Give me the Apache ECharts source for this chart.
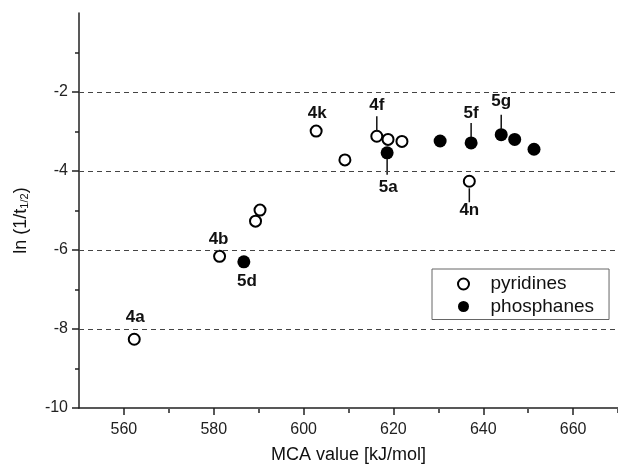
<!DOCTYPE html>
<html lang="en">
<head>
  <meta charset="UTF-8">
  <title>MCA vs ln(1/t1/2)</title>
  <script src="https://cdn.jsdelivr.net/npm/echarts@6/dist/echarts.min.js"></script>
</head>
<body style="margin:0">
<div id="chart" style="width: 618px;height: 469px"></div>
<script>
  // MCA value [kJ/mol], ln(1/t1/2), label
  var pyridines = [
    [562.3, -8.26, '4a'],
    [581.3, -6.16, '4b'],
    [589.3, -5.27, ''],
    [590.3, -4.99, ''],
    [602.8, -2.99, '4k'],
    [609.2, -3.72, ''],
    [616.3, -3.12, '4f'],
    [618.8, -3.20, ''],
    [621.9, -3.25, ''],
    [636.9, -4.26, '4n']
  ];
  var phosphanes = [
    [586.7, -6.30, '5d'],
    [618.6, -3.54, '5a'],
    [630.4, -3.24, ''],
    [637.3, -3.29, '5f'],
    [644.0, -3.08, '5g'],
    [647.0, -3.20, ''],
    [651.3, -3.45, '']
  ];
  var xLabels = [560, 580, 600, 620, 640, 660];
  var xMinor = [570, 590, 610, 630, 650, 670];
  var yLabels = [-10, -8, -6, -4, -2];
  var gridValues = [-2, -4, -6, -8];

  // label offsets in px from the marker centre; lead = leader line [from, to] in px (y)
  var labelPos = {
    '4a': {dx: 1, dy: -22},
    '4b': {dx: -1, dy: -17},
    '5d': {dx: 3, dy: 19},
    '4k': {dx: 1, dy: -18},
    '4f': {dx: 0, dy: -31, lead: [-5, -20]},
    '5f': {dx: 0, dy: -30, lead: [-6, -20]},
    '5g': {dx: 0, dy: -33, lead: [-5, -20]},
    '5a': {dx: 1, dy: 34, lead: [6, 22]},
    '4n': {dx: 0, dy: 29, lead: [7, 21]}
  };

  var annot = pyridines.concat(phosphanes).filter(function (d) { return d[2]; });

  var chart = echarts.init(document.getElementById('chart'));
  var font = '"Liberation Sans", Arial, sans-serif';
  var axisColor = '#222';
  var gridBox = {left: 79, right: -3, top: 13, bottom: 60};

  var option = {
    animation: false,
    textStyle: {fontFamily: font},
    grid: [gridBox, gridBox],
    legend: {
      left: 432,
      top: 269,
      orient: 'vertical',
      itemWidth: 36,
      itemHeight: 11,
      itemGap: 3.5,
      padding: [5.5, 15, 3.5, 25],
      borderColor: '#666',
      borderWidth: 1,
      borderRadius: 0,
      textStyle: {fontSize: 19, color: '#111', fontFamily: font, padding: [0, 0, 0, 4]},
      data: ['pyridines', 'phosphanes']
    },
    xAxis: [
      {
        type: 'value',
        min: 550,
        max: 670,
        interval: 10,
        position: 'bottom',
        name: 'MCA value [kJ/mol]',
        nameLocation: 'middle',
        nameGap: 38,
        nameTextStyle: {fontSize: 18, color: '#111'},
        axisLine: {onZero: false, lineStyle: {color: axisColor, width: 1.5}},
        axisTick: {customValues: xLabels, length: 7, lineStyle: {color: axisColor, width: 1.5}},
        axisLabel: {customValues: xLabels, fontSize: 16, color: '#222', margin: 14},
        splitLine: {show: false}
      },
      {
        // minor ticks only
        type: 'value',
        gridIndex: 1,
        position: 'bottom',
        min: 550,
        max: 670,
        interval: 10,
        axisLine: {show: false, onZero: false},
        axisTick: {customValues: xMinor, length: 4, lineStyle: {color: axisColor, width: 1.5}},
        axisLabel: {show: false},
        splitLine: {show: false}
      }
    ],
    yAxis: [
      {
        type: 'value',
        min: -10,
        max: 0,
        interval: 2,
        position: 'left',
        name: 'ln (1/t{sub|1/2})',
        nameLocation: 'middle',
        nameGap: 49,
        nameTextStyle: {
          fontSize: 18,
          color: '#111',
          padding: [0, 20, 0, 0],
          rich: {sub: {fontSize: 11, verticalAlign: 'bottom', padding: [6, 0, 0, 0], color: '#111'}}
        },
        axisLine: {onZero: false, lineStyle: {color: axisColor, width: 1.5}},
        axisTick: {customValues: yLabels, length: 7, lineStyle: {color: axisColor, width: 1.5}},
        minorTick: {show: true, splitNumber: 2, length: 4, lineStyle: {color: axisColor, width: 1.5}},
        axisLabel: {customValues: yLabels, fontSize: 16, color: '#222', margin: 11},
        splitLine: {show: false},
        minorSplitLine: {show: false}
      },
      {
        type: 'value',
        gridIndex: 1,
        min: -10,
        max: 0,
        position: 'left',
        axisLine: {show: false, onZero: false},
        axisTick: {show: false},
        axisLabel: {show: false},
        splitLine: {show: false}
      }
    ],
    series: [
      {
        name: 'pyridines',
        type: 'scatter',
        symbol: 'circle',
        symbolSize: 11,
        itemStyle: {color: '#fff', borderColor: '#000', borderWidth: 2, opacity: 1},
        data: pyridines.map(function (d) { return [d[0], d[1]]; }),
        z: 3,
        markLine: {
          silent: true,
          symbol: 'none',
          label: {show: false},
          lineStyle: {color: '#444', width: 1, type: [5, 4]},
          data: gridValues.map(function (v) { return {yAxis: v}; })
        }
      },
      {
        name: 'phosphanes',
        type: 'scatter',
        symbol: 'circle',
        symbolSize: 13,
        itemStyle: {color: '#000', opacity: 1},
        data: phosphanes.map(function (d) { return [d[0], d[1]]; }),
        z: 3
      },
      {
        type: 'custom',
        silent: true,
        z: 4,
        data: annot.map(function (d) { return [d[0], d[1]]; }),
        encode: {x: 0, y: 1},
        renderItem: function (params, api) {
          var name = annot[params.dataIndex][2];
          var p = api.coord([api.value(0), api.value(1)]);
          var o = labelPos[name] || {dx: 0, dy: -18};
          var children = [{
            type: 'text',
            x: p[0] + o.dx,
            y: p[1] + o.dy,
            style: {
              text: name,
              font: 'bold 17px ' + font,
              fill: '#111',
              align: 'center',
              verticalAlign: 'middle'
            }
          }];
          if (o.lead) {
            children.push({
              type: 'line',
              shape: {x1: p[0], y1: p[1] + o.lead[0], x2: p[0], y2: p[1] + o.lead[1]},
              style: {stroke: '#111', lineWidth: 1.5}
            });
          }
          return {type: 'group', children: children};
        }
      }
    ]
  };

  chart.setOption(option);
</script>
</body>
</html>
